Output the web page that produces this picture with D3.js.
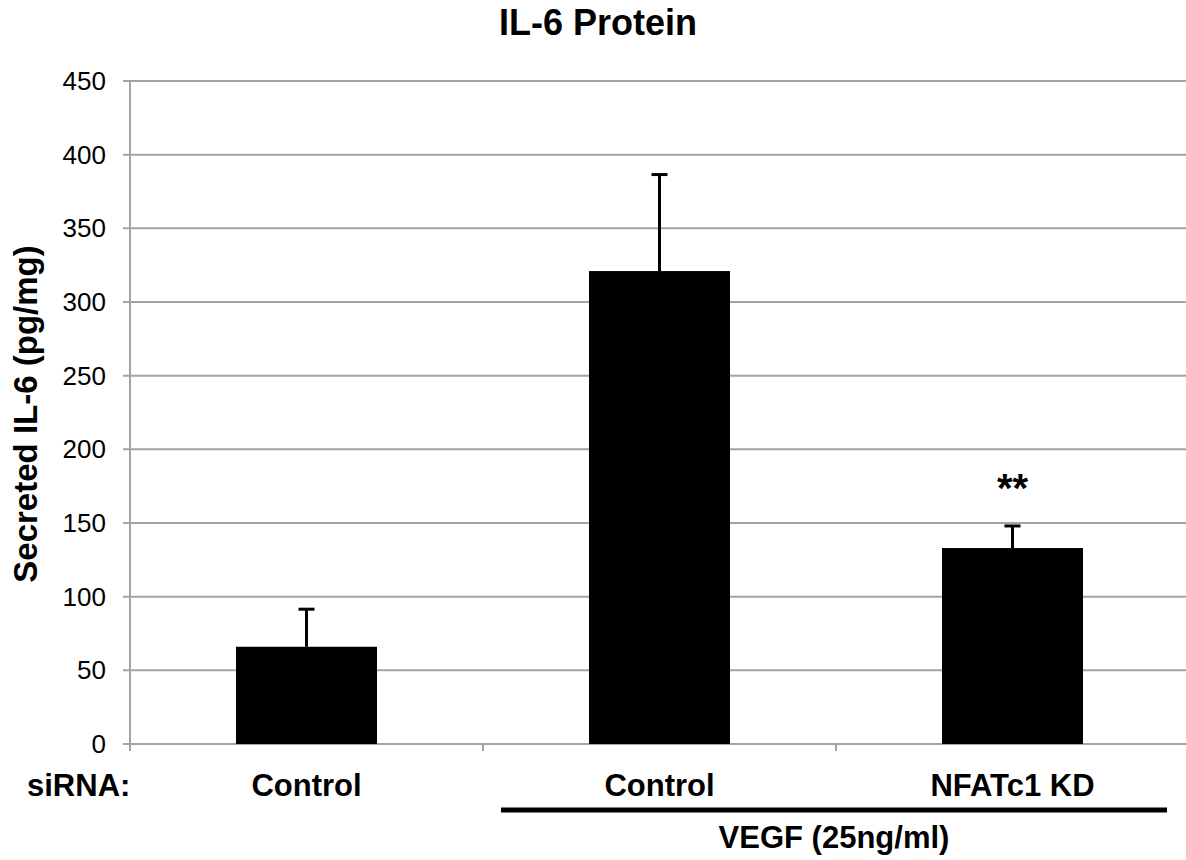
<!DOCTYPE html>
<html>
<head>
<meta charset="utf-8">
<script src="https://cdn.jsdelivr.net/npm/d3@7"></script>
<style>
  body { margin: 0; background: #fff; }
  text { font-family: "Liberation Sans", Arial, sans-serif; }
</style>
</head>
<body>
<svg id="canvas"></svg>
<script>
let groups = ["Control", "Control", "NFATc1 KD"];
let means = [66, 321, 133];
let errors = [25.5, 65.5, 15];
let stars = ["", "", "**"];
let yTicks = [0, 50, 100, 150, 200, 250, 300, 350, 400, 450];

let width = 1186;
let height = 860;
let plotLeft = 130, plotTop = 81, plotW = 1059, plotBottom = 744;

let canvas = d3.select("#canvas")
  .attr("width", width)
  .attr("height", height);

let xScale = d3.scaleBand()
  .domain(d3.range(groups.length))
  .range([plotLeft, plotLeft + plotW])
  .paddingInner(0.6)
  .paddingOuter(0.3);

let xEdge = d3.scaleLinear()
  .domain([0, groups.length])
  .range([plotLeft, plotLeft + plotW]);

let yScale = d3.scaleLinear()
  .domain([0, 450])
  .range([plotBottom, plotTop]);

// gridlines
canvas.append("g")
  .selectAll("line")
  .data(yTicks)
  .enter()
  .append("line")
  .attr("x1", plotLeft - 7)
  .attr("x2", plotLeft + plotW)
  .attr("y1", d => yScale(d))
  .attr("y2", d => yScale(d))
  .attr("stroke", "#a3a3a3")
  .attr("stroke-width", 2);

// y axis line
canvas.append("line")
  .attr("x1", plotLeft).attr("x2", plotLeft)
  .attr("y1", yScale(450)).attr("y2", plotBottom + 7)
  .attr("stroke", "#a3a3a3")
  .attr("stroke-width", 2);

// x ticks at category edges
canvas.append("g")
  .selectAll("line")
  .data(d3.range(groups.length + 1))
  .enter()
  .append("line")
  .attr("x1", d => xEdge(d)).attr("x2", d => xEdge(d))
  .attr("y1", plotBottom).attr("y2", plotBottom + 7)
  .attr("stroke", "#a3a3a3")
  .attr("stroke-width", 2);

// y tick labels
canvas.append("g")
  .selectAll("text")
  .data(yTicks)
  .enter()
  .append("text")
  .attr("x", plotLeft - 24)
  .attr("y", d => yScale(d))
  .attr("dy", "0.35em")
  .attr("text-anchor", "end")
  .attr("font-size", 26)
  .text(d => d);

// bars
let bw = 141;
canvas.append("g")
  .selectAll("rect")
  .data(means)
  .enter()
  .append("rect")
  .attr("x", (d, i) => xScale(i) + xScale.bandwidth() / 2 - bw / 2)
  .attr("width", bw)
  .attr("y", d => yScale(d))
  .attr("height", d => plotBottom - yScale(d))
  .attr("fill", "#000");

// error bars
let eb = canvas.append("g").attr("stroke", "#000").attr("stroke-width", 3);
means.forEach((m, i) => {
  let cx = xScale(i) + xScale.bandwidth() / 2;
  eb.append("line")
    .attr("x1", cx).attr("x2", cx)
    .attr("y1", yScale(m)).attr("y2", yScale(m + errors[i]));
  eb.append("line")
    .attr("x1", cx - 8).attr("x2", cx + 8)
    .attr("y1", yScale(m + errors[i])).attr("y2", yScale(m + errors[i]));
});

// significance stars
canvas.append("g")
  .selectAll("text")
  .data(stars)
  .enter()
  .append("text")
  .attr("x", (d, i) => xScale(i) + xScale.bandwidth() / 2)
  .attr("y", (d, i) => yScale(means[i] + errors[i]) - 24)
  .attr("text-anchor", "middle")
  .attr("font-size", 40)
  .attr("font-weight", "bold")
  .text(d => d);

// category labels
canvas.append("g")
  .selectAll("text")
  .data(groups)
  .enter()
  .append("text")
  .attr("x", (d, i) => xScale(i) + xScale.bandwidth() / 2)
  .attr("y", 796)
  .attr("text-anchor", "middle")
  .attr("font-size", 31)
  .attr("font-weight", "bold")
  .text(d => d);

canvas.append("text")
  .attr("x", 27).attr("y", 796)
  .attr("font-size", 31)
  .attr("font-weight", "bold")
  .text("siRNA:");

// VEGF bracket
canvas.append("line")
  .attr("x1", 501).attr("x2", 1167)
  .attr("y1", 810).attr("y2", 810)
  .attr("stroke", "#000")
  .attr("stroke-width", 5);

canvas.append("text")
  .attr("x", 834)
  .attr("y", 848)
  .attr("text-anchor", "middle")
  .attr("font-size", 31)
  .attr("font-weight", "bold")
  .text("VEGF (25ng/ml)");

// title
canvas.append("text")
  .attr("x", 598).attr("y", 35)
  .attr("text-anchor", "middle")
  .attr("font-size", 36)
  .attr("font-weight", "bold")
  .text("IL-6 Protein");

// y label
canvas.append("text")
  .attr("transform", "translate(37,414) rotate(-90)")
  .attr("text-anchor", "middle")
  .attr("font-size", 33)
  .attr("font-weight", "bold")
  .text("Secreted IL-6 (pg/mg)");
</script>
</body>
</html>
